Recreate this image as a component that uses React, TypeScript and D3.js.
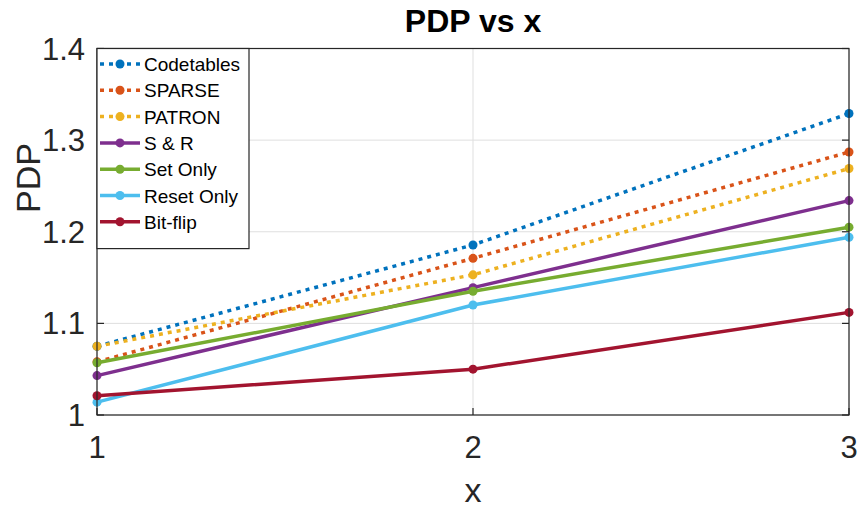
import * as d3 from "d3";
import { useEffect, useRef } from "react";

const xValues = [1, 2, 3];
const seriesNames = ["Codetables", "SPARSE", "PATRON", "S & R", "Set Only", "Reset Only", "Bit-flip"];
const codetables = [1.075, 1.1856, 1.329];
const sparse = [1.058, 1.171, 1.287];
const patron = [1.075, 1.153, 1.269];
const sAndR = [1.043, 1.139, 1.234];
const setOnly = [1.057, 1.135, 1.205];
const resetOnly = [1.014, 1.12, 1.194];
const bitFlip = [1.021, 1.05, 1.112];
const yTicks = [1, 1.1, 1.2, 1.3, 1.4];
const yTickLabels = ["1", "1.1", "1.2", "1.3", "1.4"];

export default function App() {
  const width = 863;
  const height = 511;
  const marginTop = 48.5;
  const marginRight = 14;
  const marginBottom = 96;
  const marginLeft = 97;
  const font = "'Liberation Sans', Arial, sans-serif";
  const axisColor = "#262626";

  const svgRef = useRef<SVGSVGElement>(null);

  useEffect(() => {
    const svgEl = d3.select(svgRef.current);
    svgEl.selectAll("*").remove();

    const series = [
      { name: seriesNames[0], values: codetables, color: "#0072BD", dotted: true },
      { name: seriesNames[1], values: sparse, color: "#D95319", dotted: true },
      { name: seriesNames[2], values: patron, color: "#EDB120", dotted: true },
      { name: seriesNames[3], values: sAndR, color: "#7E2F8E", dotted: false },
      { name: seriesNames[4], values: setOnly, color: "#77AC30", dotted: false },
      { name: seriesNames[5], values: resetOnly, color: "#4DBEEE", dotted: false },
      { name: seriesNames[6], values: bitFlip, color: "#A2142F", dotted: false },
    ];

    const xScale = d3.scaleLinear([1, 3], [marginLeft, width - marginRight]);
    const yScale = d3.scaleLinear([1, 1.4], [height - marginBottom, marginTop]);

    // grid
    const grid = svgEl.append("g").attr("stroke", "#dfdfdf").attr("stroke-width", 1);
    grid.selectAll("line.gx")
      .data(xValues)
      .join("line")
      .attr("x1", d => xScale(d)).attr("x2", d => xScale(d))
      .attr("y1", marginTop).attr("y2", height - marginBottom);
    grid.selectAll("line.gy")
      .data(yTicks)
      .join("line")
      .attr("x1", marginLeft).attr("x2", width - marginRight)
      .attr("y1", d => yScale(d)).attr("y2", d => yScale(d));

    // lines
    const line = d3.line<number>((d, i) => xScale(xValues[i]), d => yScale(d));
    series.forEach(s => {
      svgEl.append("path")
        .attr("fill", "none")
        .attr("stroke", s.color)
        .attr("stroke-width", 3.5)
        .attr("stroke-dasharray", s.dotted ? "4,5" : null)
        .attr("d", line(s.values));
      svgEl.append("g")
        .selectAll("circle")
        .data(s.values)
        .join("circle")
        .attr("cx", (d, i) => xScale(xValues[i]))
        .attr("cy", d => yScale(d))
        .attr("r", 4.5)
        .attr("fill", s.color);
    });

    // box + axes
    const x0 = marginLeft, x1 = width - marginRight;
    const y0 = height - marginBottom, y1 = marginTop;
    svgEl.append("rect")
      .attr("x", x0).attr("y", y1)
      .attr("width", x1 - x0).attr("height", y0 - y1)
      .attr("fill", "none").attr("stroke", axisColor).attr("stroke-width", 1.2);

    const ticks = svgEl.append("g").attr("stroke", axisColor).attr("stroke-width", 1.2);
    ticks.selectAll("line.tx")
      .data(xValues)
      .join("line")
      .attr("x1", d => xScale(d)).attr("x2", d => xScale(d))
      .attr("y1", y0).attr("y2", y0 - 7);
    ticks.selectAll("line.ty")
      .data(yTicks)
      .join("line")
      .attr("x1", x1).attr("x2", x1 - 7)
      .attr("y1", d => yScale(d)).attr("y2", d => yScale(d));
    svgEl.append("g").attr("stroke", axisColor).attr("stroke-width", 1.2)
      .selectAll("line")
      .data(yTicks)
      .join("line")
      .attr("x1", x0).attr("x2", x0 + 7)
      .attr("y1", d => yScale(d)).attr("y2", d => yScale(d));

    // tick labels
    svgEl.append("g")
      .selectAll("text")
      .data(xValues)
      .join("text")
      .attr("x", d => xScale(d))
      .attr("y", y0 + 43)
      .attr("text-anchor", "middle")
      .attr("font-size", 31)
      .attr("font-family", font)
      .attr("fill", axisColor)
      .text(d => String(d));
    svgEl.append("g")
      .selectAll("text")
      .data(yTicks)
      .join("text")
      .attr("x", x0 - 12)
      .attr("y", d => yScale(d) + 11)
      .attr("text-anchor", "end")
      .attr("font-size", 31)
      .attr("font-family", font)
      .attr("fill", axisColor)
      .text((d, i) => yTickLabels[i]);

    // axis labels
    svgEl.append("text")
      .attr("x", (x0 + x1) / 2)
      .attr("y", 502)
      .attr("text-anchor", "middle")
      .attr("font-size", 34)
      .attr("font-family", font)
      .attr("fill", axisColor)
      .text("x");
    // ylabel sits above the axis centre in the reference
    svgEl.append("text")
      .attr("transform", `translate(40, 178) rotate(-90)`)
      .attr("text-anchor", "middle")
      .attr("font-size", 34)
      .attr("font-family", font)
      .attr("fill", axisColor)
      .text("PDP");

    // title
    svgEl.append("text")
      .attr("x", (x0 + x1) / 2)
      .attr("y", 32)
      .attr("text-anchor", "middle")
      .attr("font-size", 32)
      .attr("font-weight", "bold")
      .attr("font-family", font)
      .attr("fill", "#000")
      .text("PDP vs x");

    // legend
    const rowH = 26.3;
    const legend = svgEl.append("g").attr("transform", `translate(${x0}, ${y1})`);
    legend.append("rect")
      .attr("x", 0).attr("y", 0)
      .attr("width", 152).attr("height", 16 + rowH * series.length)
      .attr("fill", "#fff").attr("stroke", axisColor).attr("stroke-width", 1.2);
    series.forEach((s, i) => {
      const cy = 15.5 + i * rowH;
      legend.append("line")
        .attr("x1", 3).attr("x2", 43)
        .attr("y1", cy).attr("y2", cy)
        .attr("stroke", s.color)
        .attr("stroke-width", 3.5)
        .attr("stroke-dasharray", s.dotted ? "4,5" : null);
      legend.append("circle")
        .attr("cx", 23).attr("cy", cy).attr("r", 4.5).attr("fill", s.color);
      legend.append("text")
        .attr("x", 47)
        .attr("y", cy + 7)
        .attr("font-size", 19)
        .attr("font-family", font)
        .attr("fill", "#000")
        .text(s.name);
    });
  }, []);

  return (
    <svg
      ref={svgRef}
      width={width}
      height={height}
      style={{ position: "absolute", left: 0, top: 0, background: "#fff" }}
      xmlns="http://www.w3.org/2000/svg"
    />
  );
}
